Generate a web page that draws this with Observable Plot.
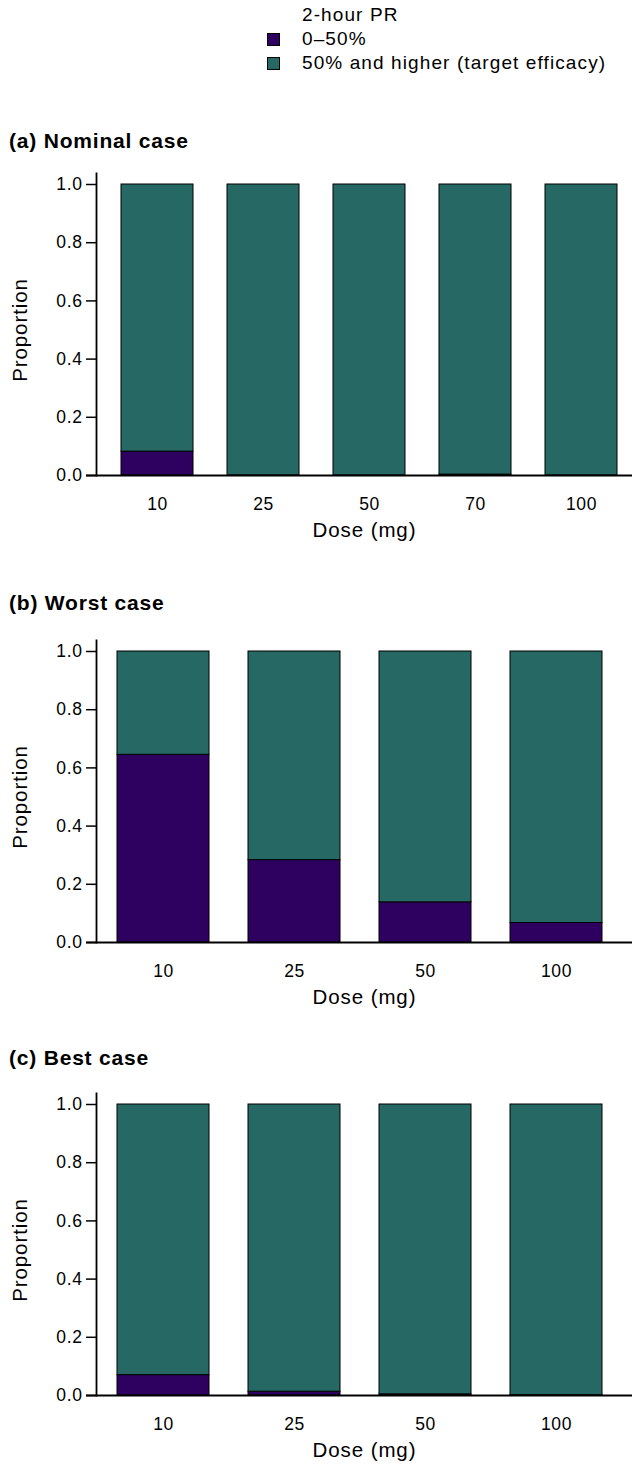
<!DOCTYPE html>
<html>
<head>
<meta charset="utf-8">
<script src="https://cdn.jsdelivr.net/npm/d3@7"></script>
<script src="https://cdn.jsdelivr.net/npm/@observablehq/plot@0.6"></script>
<style>
  body { margin: 0; background: #fff; }
  #root { position: relative; width: 632px; height: 1467px; font-family: "Liberation Sans", Arial, sans-serif; color: #000; overflow: hidden; }
  .abs { position: absolute; white-space: nowrap; }
  .title { font-weight: bold; font-size: 21px; letter-spacing: 0.8px; line-height: 24px; left: 9px; }
  .leg { font-size: 19px; letter-spacing: 1.1px; line-height: 22px; left: 302px; }
  .sw { width: 11px; height: 11px; border: 1px solid #000; left: 267px; }
  .panel { position: absolute; left: 0; }
  .panel svg { font-family: "Liberation Sans", Arial, sans-serif; overflow: visible; }
  .panel g[aria-label="y-axis tick label"] text,
  .panel g[aria-label="x-axis tick label"] text { font-size: 17.5px; letter-spacing: 0.6px; }
</style>
</head>
<body>
<div id="root"></div>
<script>
// ---- data ----
const legendTitle = "2-hour PR";
const categories = ["0–50%", "50% and higher (target efficacy)"];
const colors = ["#2e005f", "#266863"];
const yTicks = [0, 0.2, 0.4, 0.6, 0.8, 1.0];

const titleA = "(a) Nominal case";
const dosesA = ["10", "25", "50", "70", "100"];
const lowA = [0.082, 0.0, 0.0, 0.003, 0.0];
const highA = [0.918, 1.0, 1.0, 0.997, 1.0];

const titleB = "(b) Worst case";
const dosesB = ["10", "25", "50", "100"];
const lowB = [0.645, 0.283, 0.138, 0.067];
const highB = [0.355, 0.717, 0.862, 0.933];

const titleC = "(c) Best case";
const dosesC = ["10", "25", "50", "100"];
const lowC = [0.070, 0.013, 0.004, 0.001];
const highC = [0.930, 0.987, 0.996, 0.999];

const xLabel = "Dose (mg)";
const yLabel = "Proportion";

// ---- layout ----
const root = document.getElementById("root");

function addDiv(cls, text, style) {
  const d = document.createElement("div");
  d.className = "abs " + cls;
  if (text != null) d.textContent = text;
  Object.assign(d.style, style);
  root.appendChild(d);
  return d;
}

// legend
addDiv("leg", legendTitle, {top: "4px"});
categories.forEach((c, i) => {
  addDiv("leg", c, {top: (28 + i * 24) + "px"});
  addDiv("sw", null, {top: (33 + i * 24) + "px", background: colors[i]});
});

function panel(title, doses, low, high, xband, top, titleTop, height) {
  addDiv("title", title, {top: titleTop + "px"});
  const data = [];
  doses.forEach((d, i) => {
    data.push({dose: d, cat: categories[0], value: low[i]});
    data.push({dose: d, cat: categories[1], value: high[i]});
  });
  const chart = Plot.plot({
    width: 632,
    height: height,
    marginLeft: 96,
    marginRight: 0,
    marginTop: 8,
    marginBottom: height - 310,
    x: {type: "band", domain: doses, ...xband},
    y: {domain: [0, 1], range: [310, 19]},
    color: {domain: categories, range: colors},
    marks: [
      Plot.barY(data, {x: "dose", y: "value", fill: "cat", stroke: "#000", strokeWidth: 1}),
      Plot.frame({anchor: "left", strokeWidth: 1.8}),
      Plot.ruleY([0], {insetLeft: -10, strokeWidth: 2}),
      Plot.axisY({ticks: yTicks, tickFormat: d3.format(".1f"), tickSize: 10, tickPadding: 4,
                  strokeWidth: 1.5, label: null}),
      Plot.axisX({tickSize: 0, tickPadding: 22, label: null}),
      Plot.text([yLabel], {text: d => d, frameAnchor: "left", rotate: -90, dx: -76, dy: 5.5,
                           fontSize: 20.5, lineAnchor: "middle", textAnchor: "middle", fill: "#000"}),
      Plot.text([xLabel], {text: d => d, frameAnchor: "bottom", dy: 55, fontSize: 20.5, lineAnchor: "middle",
                           textAnchor: "middle", fill: "#000"})
    ]
  });
  d3.select(chart).selectAll("text")
    .filter(function () { return this.textContent === xLabel || this.textContent === yLabel; })
    .style("letter-spacing", "0.9px");
  const wrap = document.createElement("div");
  wrap.className = "panel";
  wrap.style.top = top + "px";
  wrap.appendChild(chart);
  root.appendChild(wrap);
}

panel(titleA, dosesA, lowA, highA, {paddingInner: 0.318, paddingOuter: 0.18, align: 0.62}, 165, 129, 390);
panel(titleB, dosesB, lowB, highB, {paddingInner: 0.295, paddingOuter: 0.1826, align: 0.41}, 632, 591, 390);
panel(titleC, dosesC, lowC, highC, {paddingInner: 0.295, paddingOuter: 0.1826, align: 0.41}, 1085, 1046, 380);
</script>
</body>
</html>
